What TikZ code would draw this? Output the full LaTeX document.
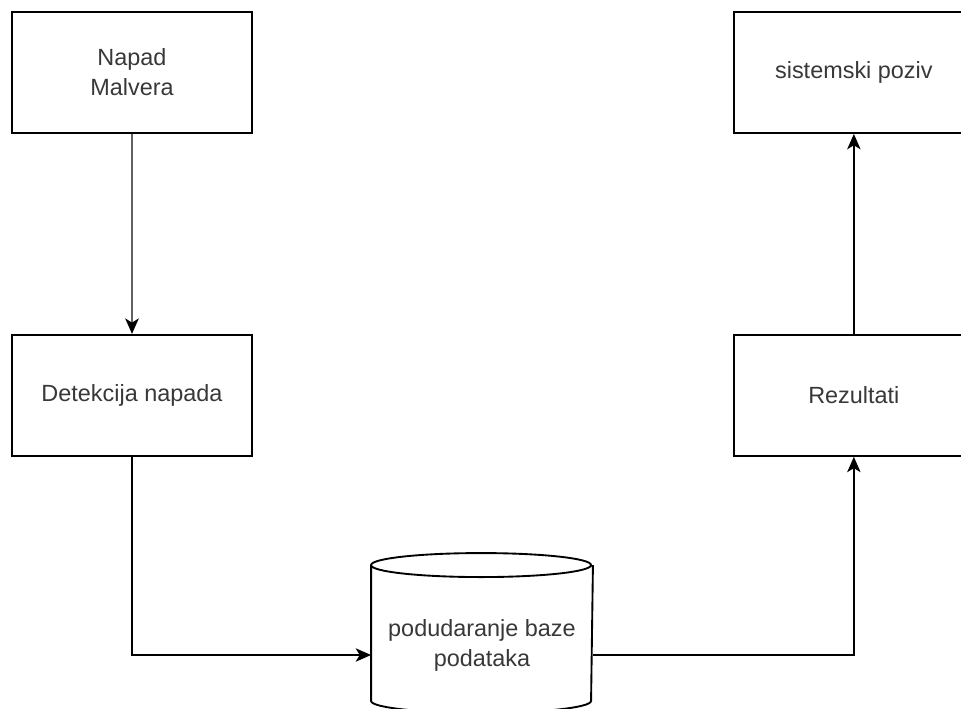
\documentclass[tikz,border=0pt]{standalone}
\usepackage{fontspec}
\setmainfont{Liberation Sans}
\usetikzlibrary{positioning,arrows.meta}

\begin{document}
\begin{tikzpicture}[
        node distance=6cm,
        line width=1.6pt,
        >={Stealth[length=0.46cm,width=0.4cm,inset=0.12cm,color=black]}
    ]

    \tikzstyle{every node}=[align=center, text=black!78, font=\fontsize{20}{25.6}\selectfont]
    \tikzstyle{box}=[rectangle, draw, minimum width=7.2cm, minimum height=3.63cm]

    \useasboundingbox (0,0) rectangle (28.83,-21.24);

    \node (napad) [box] at (3.96,-2.175) {Napad\\Malvera};
    \node (detekcija) [box, below=of napad] {Detekcija napada};
    \node (poziv) [box, right=14.4cm of napad] {sistemski poziv};
    \node (rezultati) [box, below=of poziv] {Rezultati};

    % baza: body of the cylinder, drawn round it below
    \node (baza) [minimum width=6.6cm, minimum height=4.02cm] at (14.46,-19.35) {podudaranje baze\\podataka};
    \draw ([yshift=0.36cm]baza.north west)
        arc[start angle=180, end angle=360, x radius=3.3cm, y radius=0.36cm]
        arc[start angle=0, end angle=180, x radius=3.3cm, y radius=0.36cm]
        -- ([yshift=0.36cm]baza.south west)
        arc[start angle=180, end angle=360, x radius=3.3cm, y radius=0.36cm]
        -- ([yshift=0.36cm]baza.north east);

    \draw[->, black!62, line width=2.4pt] (napad) -- (detekcija);
    \draw[->] (detekcija.south) |- ([yshift=-0.3cm]baza.west);
    \draw[->] ([yshift=-0.3cm]baza.east) -| (rezultati.south);
    \draw[->] (rezultati) -- (poziv);

\end{tikzpicture}
\end{document}
